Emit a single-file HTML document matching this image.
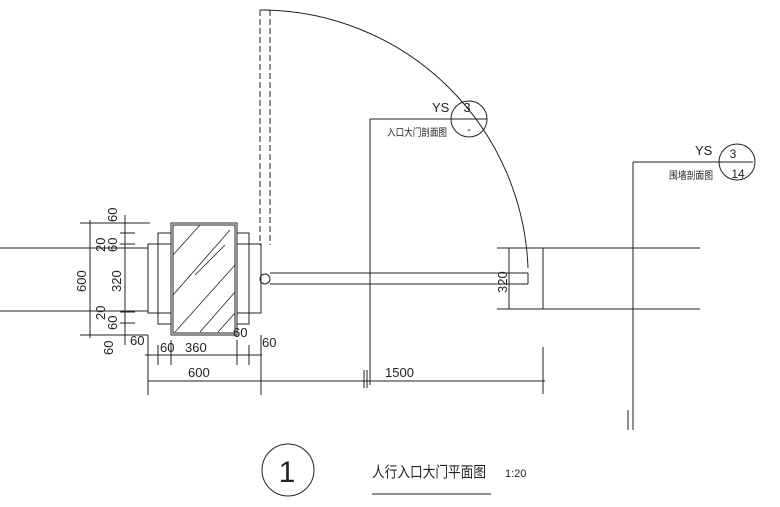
<!DOCTYPE html>
<html><head><meta charset="utf-8"><style>
html,body{margin:0;padding:0;background:#fff;}
svg{display:block;}
text{font-family:"Liberation Sans","Noto Sans CJK SC",sans-serif;fill:#222;}
</style></head><body>
<svg width="780" height="507" viewBox="0 0 780 507" xmlns="http://www.w3.org/2000/svg">
<g stroke="#222" stroke-width="1" fill="none">
<line x1="0" y1="248" x2="148" y2="248"/>
<line x1="0" y1="311" x2="148" y2="311"/>
<rect x="148" y="244" width="113" height="69"/>
<rect x="158" y="233" width="91" height="91"/>
<rect x="171" y="223" width="66" height="112" fill="#fff"/>
<rect x="173" y="225" width="62" height="108"/>
<g stroke-width="0.8">
<line x1="173" y1="255" x2="200" y2="225"/>
<line x1="173" y1="295" x2="230" y2="230"/>
<line x1="175" y1="332" x2="235" y2="265"/>
<line x1="200" y1="332" x2="235" y2="292"/>
<line x1="218" y1="332" x2="235" y2="313"/>
<line x1="195" y1="275" x2="225" y2="245"/>
</g>
<line x1="260" y1="10" x2="260" y2="245" stroke-dasharray="6,3"/>
<line x1="270" y1="10" x2="270" y2="245" stroke-dasharray="6,3"/>
<line x1="260" y1="10" x2="270" y2="10"/>
<circle cx="265" cy="279" r="5"/>
<line x1="270" y1="273" x2="528" y2="273"/>
<line x1="270" y1="284" x2="528" y2="284"/>
<line x1="528" y1="273" x2="528" y2="284"/>
<path d="M265 10 A268 268 0 0 1 528 268"/>
<line x1="497" y1="248" x2="700" y2="248"/>
<line x1="497" y1="309" x2="700" y2="309"/>
<line x1="543" y1="248" x2="543" y2="309"/>
<line x1="509" y1="248" x2="509" y2="309"/>
<line x1="370" y1="119" x2="370" y2="385"/>
<line x1="370" y1="119" x2="487" y2="119"/>
<circle cx="469" cy="119" r="18"/>
<line x1="633" y1="162" x2="633" y2="430"/>
<line x1="628" y1="410" x2="628" y2="430"/>
<line x1="633" y1="162" x2="753" y2="162"/>
<circle cx="737" cy="162" r="18"/>
<line x1="80" y1="223" x2="150" y2="223"/>
<line x1="80" y1="335" x2="148" y2="335"/>
<line x1="90" y1="220" x2="90" y2="338"/>
<line x1="125" y1="215" x2="125" y2="345"/>
<line x1="120" y1="233" x2="135" y2="233"/>
<line x1="120" y1="244" x2="135" y2="244"/>
<line x1="120" y1="312" x2="135" y2="312"/>
<line x1="120" y1="323" x2="135" y2="323"/>
<line x1="145" y1="355" x2="262" y2="355"/>
<line x1="158" y1="345" x2="158" y2="365"/>
<line x1="171" y1="340" x2="171" y2="365"/>
<line x1="237" y1="340" x2="237" y2="365"/>
<line x1="249" y1="345" x2="249" y2="365"/>
<line x1="148" y1="335" x2="148" y2="395"/>
<line x1="261" y1="335" x2="261" y2="395"/>
<line x1="148" y1="381" x2="545" y2="381"/>
<line x1="364" y1="370" x2="364" y2="388"/>
<line x1="367" y1="370" x2="367" y2="388"/>
<line x1="543" y1="347" x2="543" y2="394"/>
<circle cx="288" cy="470" r="26"/>
<line x1="372" y1="494" x2="491" y2="494"/>
</g>
<g font-size="12">
<text x="467" y="112" font-size="13" text-anchor="middle">3</text>
<text x="469" y="133" text-anchor="middle">-</text>
<text x="432" y="112" font-size="13">YS</text>
<text x="387" y="136" font-size="10" textLength="60" lengthAdjust="spacingAndGlyphs">入口大门剖面图</text>
<text x="733" y="158" font-size="12" text-anchor="middle">3</text>
<text x="738" y="178" font-size="12" text-anchor="middle">14</text>
<text x="695" y="155" font-size="13">YS</text>
<text x="669" y="179" font-size="10" textLength="44" lengthAdjust="spacingAndGlyphs">围墙剖面图</text>
<text x="287" y="482" font-size="30" text-anchor="middle" fill="#444" font-weight="300">1</text>
<text x="372" y="477" font-size="15" textLength="114" lengthAdjust="spacingAndGlyphs">人行入口大门平面图</text>
<text x="505" y="477" font-size="11">1:20</text>
<text x="160" y="352" font-size="13">60</text>
<text x="185" y="352" font-size="13">360</text>
<text x="262" y="347" font-size="13">60</text>
<text x="233" y="337" font-size="13">60</text>
<text x="130" y="345" font-size="13">60</text>
<text x="188" y="377" font-size="13">600</text>
<text x="385" y="377" font-size="13">1500</text>
<g font-size="13">
<text transform="translate(117,222) rotate(-90)">60</text>
<text transform="translate(117,252) rotate(-90)">60</text>
<text transform="translate(105,252) rotate(-90)">20</text>
<text transform="translate(121,292) rotate(-90)">320</text>
<text transform="translate(117,330) rotate(-90)">60</text>
<text transform="translate(105,320) rotate(-90)">20</text>
<text transform="translate(113,355) rotate(-90)">60</text>
<text transform="translate(86,292) rotate(-90)">600</text>
<text transform="translate(507,293) rotate(-90)">320</text>
</g>
</g>
</svg>
</body></html>
